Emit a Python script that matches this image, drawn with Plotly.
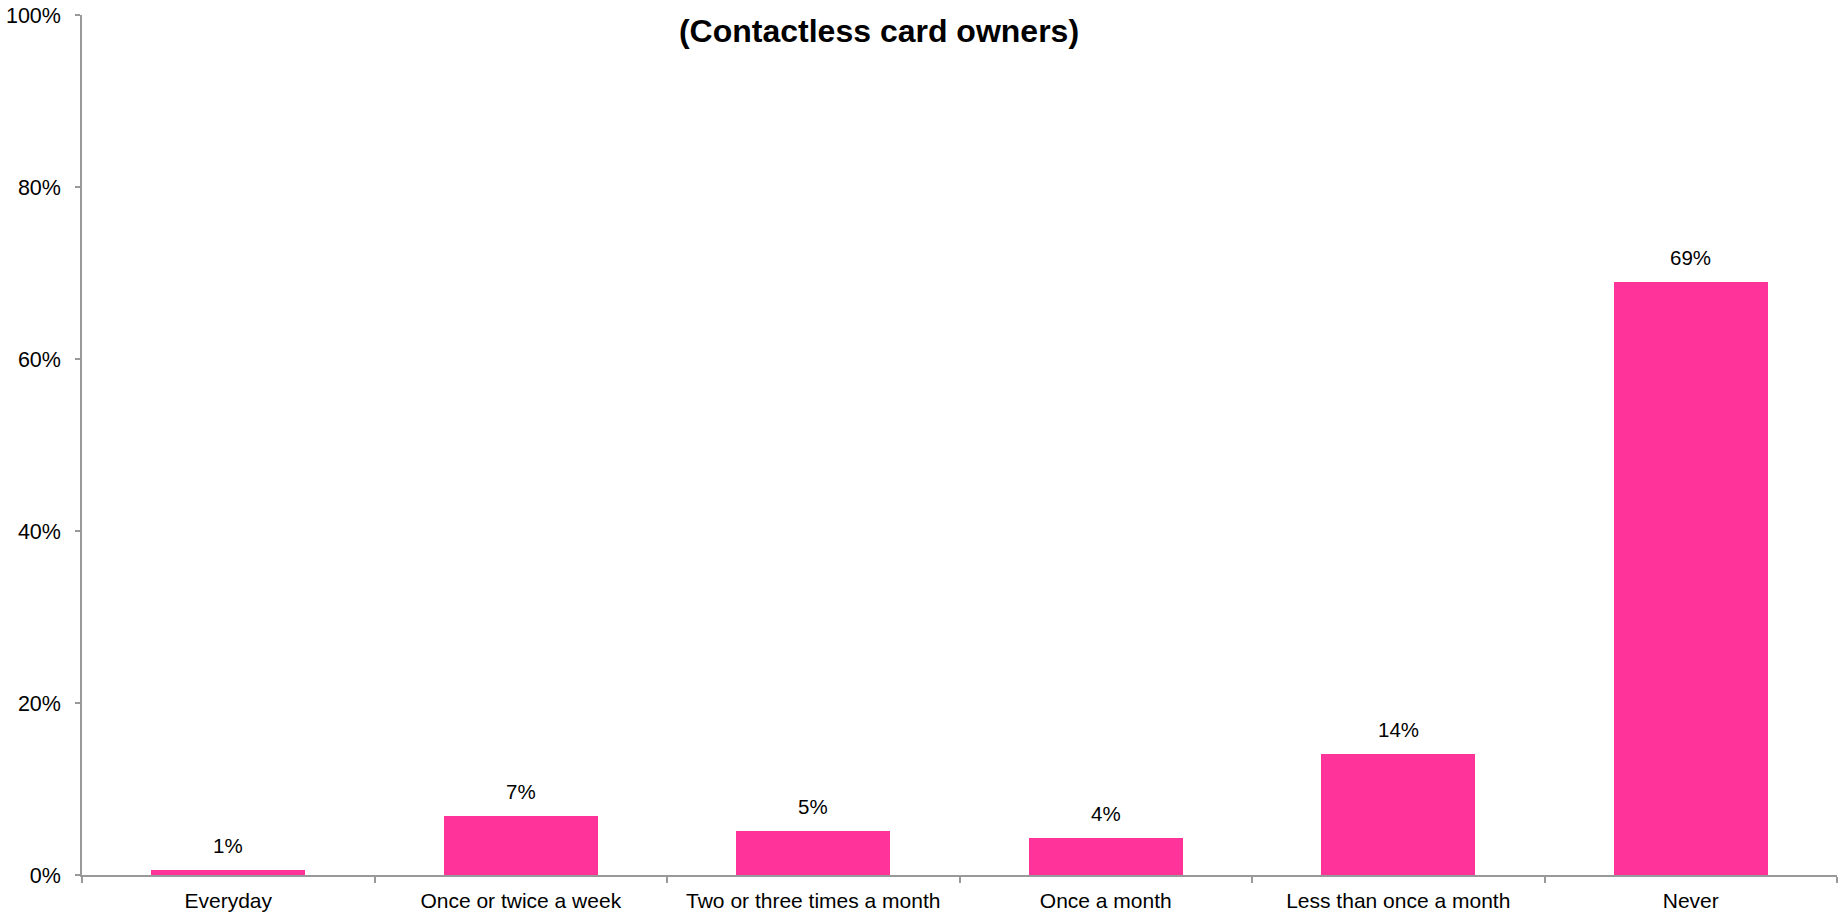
import plotly.graph_objects as go

categories = ["Everyday", "Once or twice a week", "Two or three times a month",
              "Once a month", "Less than once a month", "Never"]
shares = [0.006, 0.069, 0.051, 0.043, 0.141, 0.69]
y_ticks = [0, 0.2, 0.4, 0.6, 0.8, 1.0]

title_text = "(Contactless card owners)"
bar_color = "#FF3399"
axis_color = "#999999"
font_family = "Liberation Sans, Arial, sans-serif"

fig = go.Figure(
    go.Bar(
        x=categories,
        y=shares,
        width=0.526,
        marker=dict(color=bar_color, line=dict(width=0)),
        hoverinfo="skip",
    )
)

# Value labels above each bar
for cat, val in zip(categories, shares):
    fig.add_annotation(
        x=cat, y=val, xref="x", yref="y",
        text=f"{val:.0%}",
        showarrow=False,
        yanchor="bottom",
        yshift=11,
        font=dict(family=font_family, size=20.5, color="#000000"),
    )

fig.update_layout(
    width=1842,
    height=914,
    margin=dict(l=82, r=5, t=15, b=39, autoexpand=False),
    paper_bgcolor="white",
    plot_bgcolor="white",
    showlegend=False,
    bargap=0,
    title=dict(
        text=title_text,
        xref="container", yref="container",
        x=879 / 1842, y=1 - 31 / 914,
        xanchor="center", yanchor="middle",
        font=dict(family=font_family, size=32, color="#000000", weight="bold"),
    ),
    font=dict(family=font_family, color="#000000"),
)

fig.update_xaxes(
    type="category",
    automargin=False,
    showline=True, linecolor=axis_color, linewidth=1.5,
    ticks="outside", tickson="boundaries", ticklen=6,
    tickcolor=axis_color, tickwidth=1.5,
    showgrid=False, zeroline=False,
    tickfont=dict(family=font_family, size=21, color="#000000"),
    ticklabelstandoff=6,
)

fig.update_yaxes(
    range=[0, 1],
    automargin=False,
    tickvals=y_ticks,
    tickformat=".0%",
    showline=True, linecolor=axis_color, linewidth=1.5,
    ticks="outside", ticklen=5, tickcolor=axis_color, tickwidth=1.5,
    showgrid=False, zeroline=False,
    tickfont=dict(family=font_family, size=21.5, color="#000000"),
    ticklabelstandoff=10,
)

fig.write_html("out.html")
